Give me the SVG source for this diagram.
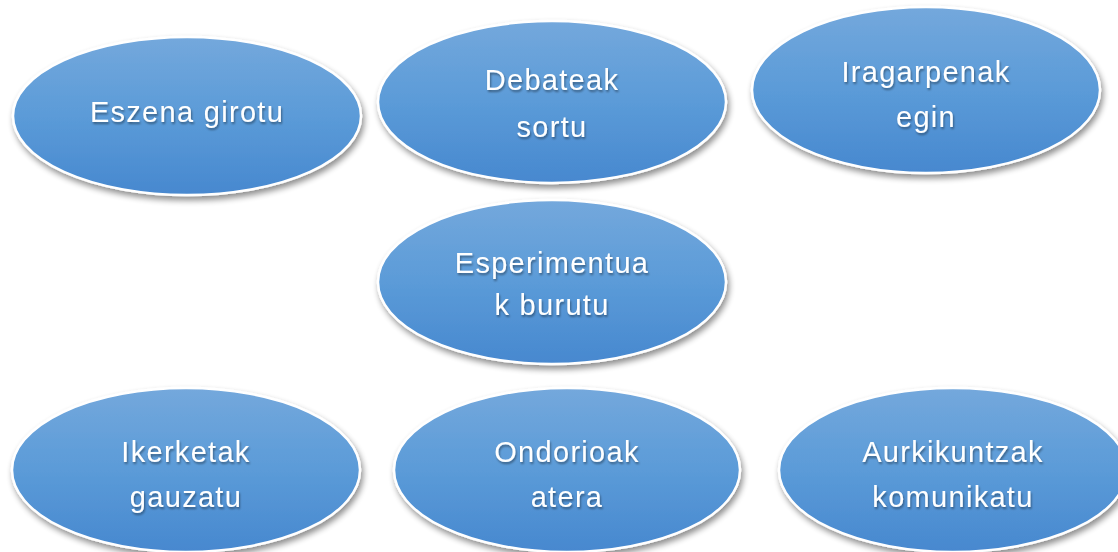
<svg xmlns="http://www.w3.org/2000/svg" width="1118" height="552" viewBox="0 0 1118 552">
<defs>
<linearGradient id="g" x1="0" y1="0" x2="0" y2="1">
<stop offset="0" stop-color="#74a8dc"/>
<stop offset="0.5" stop-color="#5b9bd8"/>
<stop offset="1" stop-color="#4788cf"/>
</linearGradient>
<filter id="sh" x="-10%" y="-10%" width="125%" height="130%">
<feGaussianBlur in="SourceAlpha" stdDeviation="3"/>
<feOffset dx="2" dy="4" result="b"/>
<feComponentTransfer><feFuncA type="linear" slope="0.45"/></feComponentTransfer>
<feMerge><feMergeNode/><feMergeNode in="SourceGraphic"/></feMerge>
</filter>
<filter id="ts" x="-10%" y="-20%" width="120%" height="150%">
<feGaussianBlur in="SourceAlpha" stdDeviation="1"/>
<feOffset dx="1" dy="2"/>
<feComponentTransfer><feFuncA type="linear" slope="0.4"/></feComponentTransfer>
<feMerge><feMergeNode/><feMergeNode in="SourceGraphic"/></feMerge>
</filter>
</defs>
<style>
.n ellipse{fill:url(#g);stroke:#ffffff;stroke-width:2.5;filter:url(#sh)}
.n text{fill:#ffffff;font-family:"Liberation Sans",Arial,sans-serif;font-size:29px;letter-spacing:1.3px;text-anchor:middle;filter:url(#ts)}
</style>
<rect width="1118" height="552" fill="#ffffff"/>
<g id="connectors"></g>
<g id="n1" class="n"><ellipse cx="187" cy="116" rx="174" ry="79"/><text x="187" y="122">Eszena girotu</text></g>
<g id="n2" class="n"><ellipse cx="552" cy="102" rx="174" ry="81"/><text x="552" y="90">Debateak</text><text x="552" y="137">sortu</text></g>
<g id="n3" class="n"><ellipse cx="926" cy="90" rx="174" ry="83"/><text x="926" y="82">Iragarpenak</text><text x="926" y="127">egin</text></g>
<g id="n4" class="n"><ellipse cx="552" cy="282" rx="174" ry="82"/><text x="552" y="273">Esperimentua</text><text x="552" y="315">k burutu</text></g>
<g id="n5" class="n"><ellipse cx="186" cy="470" rx="174" ry="82"/><text x="186" y="462">Ikerketak</text><text x="186" y="507">gauzatu</text></g>
<g id="n6" class="n"><ellipse cx="567" cy="470" rx="173" ry="82"/><text x="567" y="462">Ondorioak</text><text x="567" y="507">atera</text></g>
<g id="n7" class="n"><ellipse cx="953" cy="470" rx="174" ry="82"/><text x="953" y="462">Aurkikuntzak</text><text x="953" y="507">komunikatu</text></g>
</svg>
